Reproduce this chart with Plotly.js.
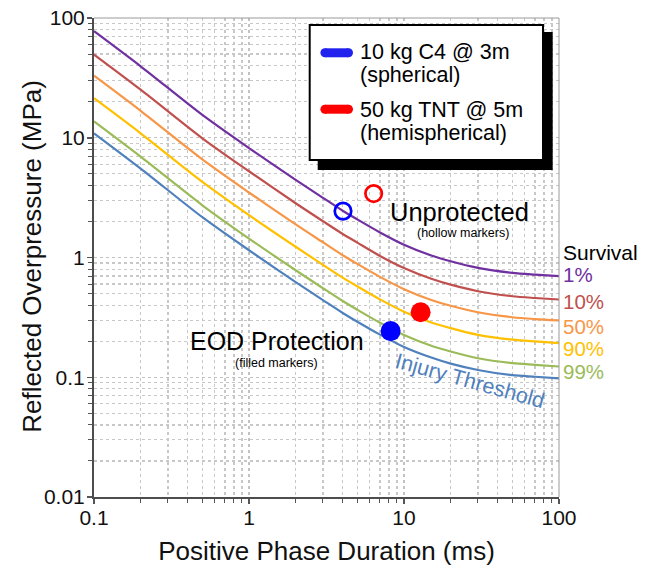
<!DOCTYPE html>
<html>
<head>
<meta charset="utf-8">
<script src="https://cdn.plot.ly/plotly-3.0.1.min.js"></script>
<style>
  html, body { margin: 0; padding: 0; background: #ffffff; }
  #chart { width: 651px; height: 568px; }
</style>
</head>
<body>
<div id="chart"></div>
<script>
// Positive phase duration (ms)
const duration = [0.1, 0.2, 0.5, 1, 2, 3, 4, 5, 7, 10, 15, 20, 30, 50, 70, 100];

// Reflected overpressure (MPa) for each survival curve
const survival1  = [77.6, 39.5, 15.5, 8.2, 4.45, 3.15, 2.47, 2.08, 1.62, 1.28, 1.04, 0.93, 0.82, 0.745, 0.72, 0.70];
const survival10 = [49.5, 25.2, 9.9, 5.25, 2.84, 2.01, 1.58, 1.33, 1.03, 0.817, 0.664, 0.593, 0.523, 0.475, 0.459, 0.446];
const survival50 = [33.0, 16.8, 6.6, 3.49, 1.89, 1.34, 1.05, 0.884, 0.689, 0.544, 0.442, 0.395, 0.349, 0.317, 0.306, 0.298];
const survival90 = [21.4, 10.9, 4.28, 2.26, 1.23, 0.869, 0.682, 0.574, 0.447, 0.353, 0.287, 0.257, 0.226, 0.206, 0.199, 0.193];
const survival99 = [13.7, 6.95, 2.73, 1.44, 0.783, 0.554, 0.435, 0.366, 0.285, 0.225, 0.183, 0.164, 0.144, 0.131, 0.127, 0.123];
const injuryThreshold = [10.9, 5.53, 2.17, 1.15, 0.623, 0.441, 0.346, 0.291, 0.227, 0.179, 0.146, 0.130, 0.115, 0.104, 0.101, 0.098];

const curveNames  = ['1%', '10%', '50%', '90%', '99%', 'Injury Threshold'];
const curveColors = ['#7030A0', '#C0504D', '#F79646', '#FFC000', '#9BBB59', '#4F81BD'];
const curveValues = [survival1, survival10, survival50, survival90, survival99, injuryThreshold];

// Blast scenarios: [duration ms, pressure MPa]
const c4Unprotected  = [4.04, 2.44];
const tntUnprotected = [6.37, 3.42];
const c4Protected    = [8.2, 0.243];
const tntProtected   = [12.8, 0.349];

const xTicks = [0.1, 1, 10, 100];
const yTicks = [0.01, 0.1, 1, 10, 100];
const minorDigits = [2, 3, 4, 5, 6, 7, 8, 9];
const xDecades = [0.1, 1, 10];
const yDecades = [0.01, 0.1, 1, 10];

const FONT = 'Liberation Sans, Arial, sans-serif';
const BLUE = '#0000FF';
const RED = '#FF0000';

const traces = curveValues.map((vals, i) => ({
  x: duration, y: vals, type: 'scatter', mode: 'lines',
  name: curveNames[i], line: { color: curveColors[i], width: 2.2, shape: 'spline', smoothing: 0.8 },
  showlegend: false, hoverinfo: 'skip'
}));

function markerTrace(pt, color, filled) {
  return {
    x: [pt[0]], y: [pt[1]], type: 'scatter', mode: 'markers', showlegend: false, hoverinfo: 'skip',
    marker: filled
      ? { size: 20, color: color, line: { width: 0 } }
      : { size: 16.5, color: 'rgba(255,255,255,0)', line: { color: color, width: 2.7 } }
  };
}
traces.push(markerTrace(c4Unprotected, BLUE, false));
traces.push(markerTrace(tntUnprotected, RED, false));
traces.push(markerTrace(c4Protected, BLUE, true));
traces.push(markerTrace(tntProtected, RED, true));

// pixel -> paper helpers (plot area: left 94.3, right 559.3, top 18, bottom 497)
const PL = 94.3, PW = 465, PB = 497, PH = 479;
const px = v => (v - PL) / PW;
const py = v => (PB - v) / PH;

const shapes = [
  { type: 'line', xref: 'paper', yref: 'paper', x0: 0, x1: 1, y0: 1, y1: 1, line: { color: '#9a9a9a', width: 1 }, layer: 'above' },
  { type: 'line', xref: 'paper', yref: 'paper', x0: 1, x1: 1, y0: 0, y1: 1, line: { color: '#9a9a9a', width: 1 }, layer: 'above' },
  { type: 'rect', xref: 'paper', yref: 'paper', x0: px(318), x1: px(553), y0: py(170), y1: py(32), fillcolor: '#000000', line: { width: 0 }, layer: 'above' },
  { type: 'rect', xref: 'paper', yref: 'paper', x0: px(310), x1: px(543.3), y0: py(160), y1: py(25), fillcolor: '#ffffff', line: { color: '#000000', width: 2 }, layer: 'above' },
];
function swatch(yPix, color) {
  shapes.push({ type: 'line', xref: 'paper', yref: 'paper', x0: px(325.2), x1: px(348.8), y0: py(yPix), y1: py(yPix), line: { color: color, width: 9 }, layer: 'above' });
  [325.2, 348.8].forEach(cx => shapes.push({
    type: 'circle', xref: 'paper', yref: 'paper', xsizemode: 'pixel', ysizemode: 'pixel',
    xanchor: px(cx), yanchor: py(yPix), x0: -4.5, x1: 4.5, y0: -4.5, y1: 4.5,
    fillcolor: color, line: { width: 0 }, layer: 'above'
  }));
}
swatch(52.8, '#2222EE');
swatch(109.2, RED);

function ann(text, xPix, yPix, size, color, anchor, extra) {
  return Object.assign({
    text: text, xref: 'paper', yref: 'paper', x: px(xPix), y: py(yPix),
    xanchor: anchor || 'left', yanchor: 'middle', showarrow: false,
    font: { family: FONT, size: size, color: color || '#000000' }
  }, extra || {});
}

const annotations = [
  ann('10 kg C4 @ 3m', 358, 52.5, 21.5),
  ann('(spherical)', 358, 75, 21.5),
  ann('50 kg TNT @ 5m', 358, 109.5, 21.5),
  ann('(hemispherical)', 358, 132.5, 21.5),
  ann('Unprotected', 460, 212, 25.5, '#000000', 'center'),
  ann('(hollow markers)', 463, 233, 12.5, '#000000', 'center'),
  ann('EOD Protection', 277, 341, 25, '#000000', 'center'),
  ann('(filled markers)', 277, 362.5, 12.5, '#000000', 'center'),
  ann('Injury Threshold', 470, 381, 21.5, '#4F81BD', 'center', { textangle: 15.5 }),
  ann('Survival', 561, 252, 21),
  ann('1%', 561, 275, 20.5, curveColors[0]),
  ann('10%', 561, 301.7, 20.5, curveColors[1]),
  ann('50%', 561, 326.7, 20.5, curveColors[2]),
  ann('90%', 561, 348.5, 20.5, curveColors[3]),
  ann('99%', 561, 371.5, 20.5, curveColors[4]),
  // y-axis title
  { text: 'Reflected Overpressure (MPa)', xref: 'paper', yref: 'paper', x: px(32), y: py(256),
    xanchor: 'center', yanchor: 'middle', showarrow: false, textangle: -90,
    font: { family: FONT, size: 26, color: '#111111' } }
];

function minorVals(decades) {
  const out = [];
  decades.forEach(d => minorDigits.forEach(k => out.push(d * k)));
  return out;
}

function axis(range, ticks, decades) {
  return {
    type: 'log', range: range, tickmode: 'array', tickvals: ticks, ticktext: ticks.map(String),
    ticks: 'outside', ticklen: 5, tickwidth: 1.5, tickcolor: '#555555',
    showline: true, linecolor: '#4d4d4d', linewidth: 2,
    showgrid: true, gridcolor: '#c2c2c2', griddash: 'dot', gridwidth: 1.2,
    zeroline: false,
    tickfont: { family: FONT, size: 21, color: '#111111' },
    minor: { tickmode: 'array', tickvals: minorVals(decades), ticks: 'outside', ticklen: 4, tickwidth: 1,
             tickcolor: '#555555', showgrid: true, gridcolor: '#c8c8c8', griddash: 'dot', gridwidth: 1.2 }
  };
}

const xAxis = axis([-1, 2], xTicks, xDecades);
xAxis.ticklabelstandoff = -4;
xAxis.title = { text: 'Positive Phase Duration (ms)', font: { family: FONT, size: 26, color: '#111111' }, standoff: 14 };
const yAxis = axis([-2, 2], yTicks, yDecades);
yAxis.ticklabelstandoff = -2;

const layout = {
  width: 651, height: 568,
  margin: { l: 94.3, r: 91.7, t: 18, b: 71 },
  paper_bgcolor: '#ffffff', plot_bgcolor: '#ffffff',
  showlegend: false,
  xaxis: xAxis,
  yaxis: yAxis,
  shapes: shapes,
  annotations: annotations
};

Plotly.newPlot('chart', traces, layout, { staticPlot: true, displayModeBar: false });
</script>
</body>
</html>
